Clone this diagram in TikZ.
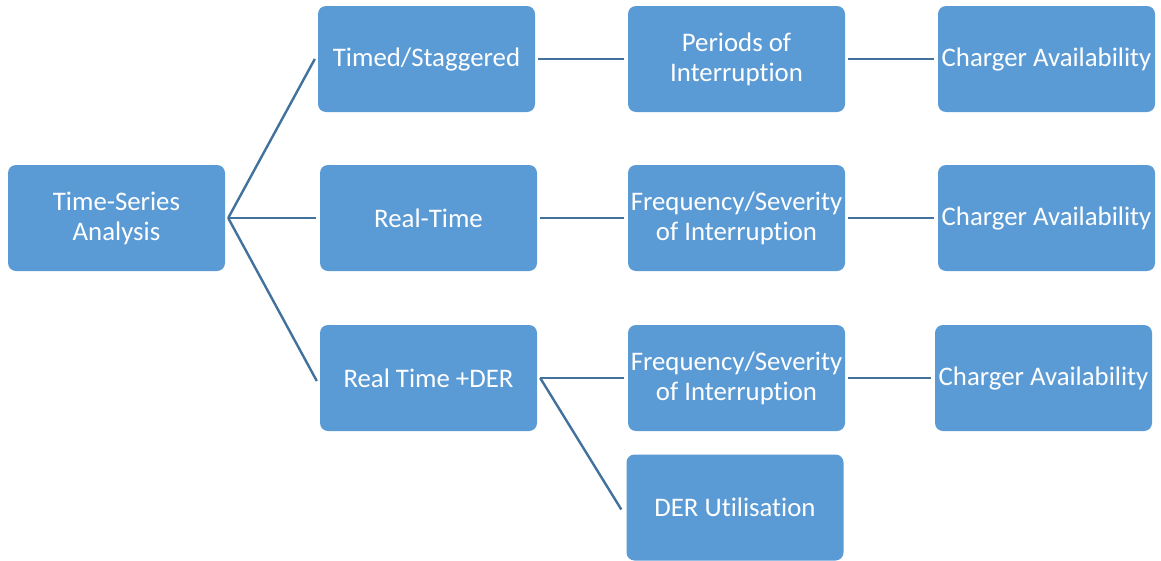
\documentclass[tikz,border=0pt]{standalone}
\usepackage{fontspec}
\setmainfont{Carlito}[Ligatures=NoCommon]
\definecolor{boxblue}{HTML}{5B9BD5}
\definecolor{linkblue}{HTML}{41719C}
\begin{document}
\begin{tikzpicture}[x=1pt,y=-1pt,
  box/.style={rectangle, rounded corners=8pt, fill=boxblue, text=white,
    minimum width=217pt, minimum height=106pt, inner sep=0pt, align=center,
    font=\fontsize{26.8}{30}\selectfont},
  conn/.style={draw=linkblue, line width=2.4pt}]
\useasboundingbox (0,0) rectangle (1161,560);
% root
\node[box] (root) at (116.5,218) {Time-Series\\Analysis};
% second column
\node[box] (ts)  at (426.5,59)  {Timed/Staggered};
\node[box] (rt)  at (428.5,218) {Real-Time};
\node[box] (rtd) at (428.5,378) {Real Time +DER};
% third column
\node[box] (per) at (736.5,59)  {Periods of\\Interruption};
\node[box] (fr1) at (736.5,218) {Frequency/Severity\\of Interruption};
\node[box] (fr2) at (736.5,378) {Frequency/Severity\\of Interruption};
\node[box] (der) at (735,507.5) {DER Utilisation};
% fourth column
\node[box] (ch1) at (1046.5,59)  {Charger Availability};
\node[box] (ch2) at (1046.5,218) {Charger Availability};
\node[box] (ch3) at (1043.5,378) {Charger Availability};
% connectors
\coordinate (rootout) at ([xshift=3pt]root.east);
\draw[conn] (rootout) -- ([xshift=-3pt]ts.west);
\draw[conn] (rootout) -- ([xshift=-4pt]rt.west);
\draw[conn] (rootout) -- ([xshift=-3pt,yshift=-3pt]rtd.west);
\draw[conn] ([xshift=3pt]ts.east) -- ([xshift=-4pt]per.west);
\draw[conn] ([xshift=3pt]rt.east) -- ([xshift=-4pt]fr1.west);
\coordinate (rtdout) at ([xshift=3pt]rtd.east);
\draw[conn] (rtdout) -- ([xshift=-4pt]fr2.west);
\draw[conn] (rtdout) -- ([xshift=-5pt,yshift=-2pt]der.west);
\draw[conn] ([xshift=3pt]per.east) -- ([xshift=-4pt]ch1.west);
\draw[conn] ([xshift=3pt]fr1.east) -- ([xshift=-4pt]ch2.west);
\draw[conn] ([xshift=3pt]fr2.east) -- ([xshift=-4pt]ch3.west);
\end{tikzpicture}
\end{document}
